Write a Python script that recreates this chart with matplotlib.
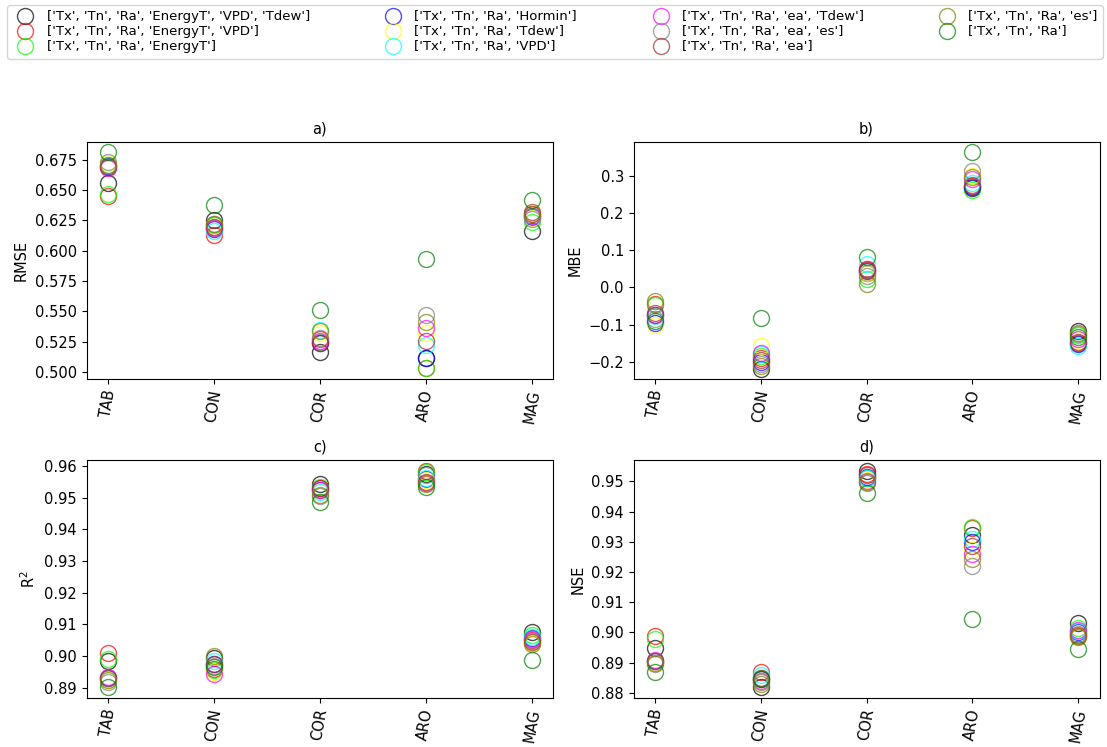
import matplotlib.pyplot as plt
import numpy as np

sites = ['TAB', 'CON', 'COR', 'ARO', 'MAG']

inputs = [
    "['Tx', 'Tn', 'Ra', 'EnergyT', 'VPD', 'Tdew']",
    "['Tx', 'Tn', 'Ra', 'EnergyT', 'VPD']",
    "['Tx', 'Tn', 'Ra', 'EnergyT']",
    "['Tx', 'Tn', 'Ra', 'Hormin']",
    "['Tx', 'Tn', 'Ra', 'Tdew']",
    "['Tx', 'Tn', 'Ra', 'VPD']",
    "['Tx', 'Tn', 'Ra', 'ea', 'Tdew']",
    "['Tx', 'Tn', 'Ra', 'ea', 'es']",
    "['Tx', 'Tn', 'Ra', 'ea']",
    "['Tx', 'Tn', 'Ra', 'es']",
    "['Tx', 'Tn', 'Ra']",
]
colors = ['black', 'red', 'lime', 'blue', 'yellow', 'cyan',
          'magenta', 'gray', 'brown', 'olive', 'green']

# one row per input combination, columns follow `sites`
rmse = [
    [0.656, 0.625, 0.517, 0.512, 0.616],
    [0.645, 0.613, 0.527, 0.503, 0.630],
    [0.647, 0.621, 0.525, 0.503, 0.624],
    [0.670, 0.618, 0.524, 0.512, 0.628],
    [0.672, 0.620, 0.532, 0.532, 0.627],
    [0.671, 0.616, 0.535, 0.522, 0.629],
    [0.668, 0.619, 0.526, 0.536, 0.629],
    [0.673, 0.622, 0.528, 0.547, 0.626],
    [0.669, 0.620, 0.524, 0.526, 0.632],
    [0.671, 0.622, 0.534, 0.541, 0.630],
    [0.681, 0.638, 0.551, 0.593, 0.642],
]
mbe = [
    [-0.074, -0.218, 0.040, 0.267, -0.118],
    [-0.045, -0.191, 0.050, 0.272, -0.150],
    [-0.048, -0.185, 0.022, 0.262, -0.128],
    [-0.095, -0.200, 0.045, 0.270, -0.152],
    [-0.101, -0.157, 0.040, 0.301, -0.140],
    [-0.078, -0.180, 0.062, 0.280, -0.157],
    [-0.075, -0.175, 0.050, 0.293, -0.138],
    [-0.085, -0.205, 0.030, 0.312, -0.125],
    [-0.070, -0.195, 0.046, 0.276, -0.148],
    [-0.037, -0.210, 0.008, 0.297, -0.122],
    [-0.090, -0.083, 0.083, 0.363, -0.132],
]
r2 = [
    [0.8985, 0.8995, 0.9542, 0.9575, 0.9075],
    [0.9010, 0.8960, 0.9530, 0.9585, 0.9050],
    [0.8990, 0.8955, 0.9535, 0.9582, 0.9066],
    [0.8930, 0.8975, 0.9525, 0.9560, 0.9058],
    [0.8925, 0.8950, 0.9520, 0.9555, 0.9040],
    [0.8930, 0.8985, 0.9518, 0.9563, 0.9062],
    [0.8935, 0.8945, 0.9525, 0.9548, 0.9055],
    [0.8920, 0.8970, 0.9505, 0.9572, 0.9048],
    [0.8930, 0.8975, 0.9530, 0.9550, 0.9045],
    [0.8925, 0.9000, 0.9510, 0.9543, 0.9038],
    [0.8903, 0.8965, 0.9488, 0.9535, 0.8988],
]
nse = [
    [0.8950, 0.8820, 0.9535, 0.9323, 0.9031],
    [0.8990, 0.8868, 0.9525, 0.9345, 0.8993],
    [0.8980, 0.8850, 0.9510, 0.9348, 0.9015],
    [0.8905, 0.8845, 0.9515, 0.9300, 0.9000],
    [0.8900, 0.8840, 0.9505, 0.9273, 0.8990],
    [0.8905, 0.8860, 0.9512, 0.9309, 0.9005],
    [0.8910, 0.8840, 0.9500, 0.9260, 0.9008],
    [0.8895, 0.8835, 0.9495, 0.9220, 0.8995],
    [0.8905, 0.8850, 0.9520, 0.9287, 0.8990],
    [0.8898, 0.8830, 0.9498, 0.9244, 0.8985],
    [0.8868, 0.8845, 0.9460, 0.9045, 0.8944],
]

panels = [('a)', 'RMSE', rmse), ('b)', 'MBE', mbe),
          ('c)', 'R$^2$', r2), ('d)', 'NSE', nse)]

plt.rcParams['font.size'] = 10.5

fig = plt.figure(figsize=(11.07, 7.47), dpi=100)
W, H = 1107.0, 747.0
# axes boxes in pixels: left, top, right, bottom
boxes = [(86.5, 141.7, 552.9, 379.3), (633.6, 141.7, 1099.5, 379.3),
         (86.5, 460.0, 552.9, 697.7), (633.6, 460.0, 1099.5, 697.7)]

x = np.arange(len(sites))
for (title, ylab, vals), (l, t, r, b) in zip(panels, boxes):
    ax = fig.add_axes([l / W, 1 - b / H, (r - l) / W, (b - t) / H])
    for row, c, lab in zip(vals, colors, inputs):
        ax.plot(x, row, 'o', ms=11.5, mfc='none', mec=c, mew=1.0,
                alpha=0.7, label=lab)
    ax.set_xticks(x)
    ax.set_xticklabels(sites, rotation=80)
    ax.set_title(title, fontsize=10.5)
    ax.set_ylabel(ylab)

handles, labels = fig.axes[0].get_legend_handles_labels()
fig.legend(handles, labels, loc='upper left', ncol=4, mode='expand',
           bbox_to_anchor=(7 / W, 0, 1096 / W, 1 - 5 / H),
           borderaxespad=0, fontsize=9.5, labelspacing=0.15,
           handletextpad=0.6)

fig.savefig('out.png', dpi=100)
